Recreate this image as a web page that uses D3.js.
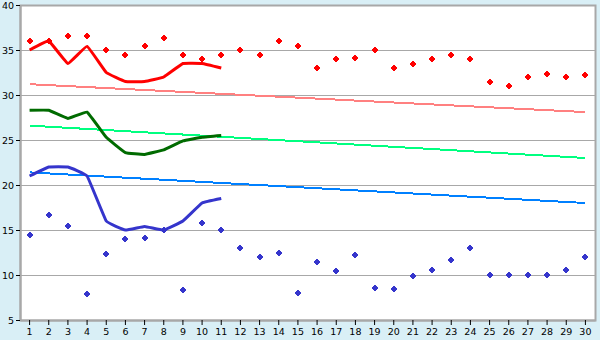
<!DOCTYPE html>
<html>
<head>
<meta charset="utf-8">
<script src="https://cdn.jsdelivr.net/npm/d3@7"></script>
<style>
  body { margin: 0; background: #d9eff6; }
  svg { display: block; }
  .tick text { font-family: "DejaVu Sans", Verdana, sans-serif; font-size: 9.5px; fill: #000; }
</style>
</head>
<body>
<div id="chart"></div>
<script>
// categories (days)
const days = d3.range(1, 31)

// scatter values
const redPoints = [36.0, 36.0, 36.5, 36.6, 35.0, 34.4, 35.5, 36.3, 34.4, 34.0,
                   34.5, 35.0, 34.5, 36.0, 35.5, 33.0, 34.0, 34.1, 35.0, 33.0,
                   33.5, 34.0, 34.5, 34.0, 31.4, 31.0, 32.0, 32.3, 32.0, 32.2]
const bluePoints = [14.4, 16.7, 15.4, 7.85, 12.3, 14.0, 14.1, 15.0, 8.3, 15.75,
                    15.0, 13.0, 12.0, 12.5, 8.0, 11.5, 10.5, 12.2, 8.6, 8.5,
                    9.9, 10.6, 11.7, 13.0, 10.0, 10.0, 10.0, 10.0, 10.6, 12.0]

// line values (days 1 - 11)
const redLine = [35.0, 36.0, 33.5, 35.4, 32.5, 31.5, 31.5, 32.0, 33.5, 33.5, 33.0]
const greenLine = [28.3, 28.3, 27.4, 28.1, 25.3, 23.6, 23.4, 23.9, 24.9, 25.3, 25.5]
const blueLine = [21.0, 22.0, 22.0, 21.0, 16.0, 15.0, 15.4, 15.0, 16.0, 18.0, 18.5]

// trend lines: value at day 1 and day 30
const redTrend = [31.2, 28.1]
const greenTrend = [26.6, 23.0]
const blueTrend = [21.4, 18.0]

const yTicks = [5, 10, 15, 20, 25, 30, 35, 40]

const width = 600, height = 340
const margin = { top: 5, right: 5, bottom: 20, left: 20 }

const svg = d3.select('#chart').append('svg')
    .attr('width', width)
    .attr('height', height)

const xScale = d3.scaleBand()
    .domain(days)
    .range([margin.left, width - margin.right])

const xc = d => xScale(d) + xScale.bandwidth() / 2

const yScale = d3.scaleLinear()
    .domain([5, 40])
    .range([height - margin.bottom, margin.top])

// plot background
svg.append('rect')
    .attr('x', margin.left)
    .attr('y', margin.top)
    .attr('width', width - margin.left - margin.right)
    .attr('height', height - margin.top - margin.bottom)
    .attr('fill', '#fff')

// gridlines
svg.append('g')
    .selectAll('line')
    .data(yTicks.slice(1, -1))
    .join('line')
    .attr('x1', margin.left)
    .attr('x2', width - margin.right)
    .attr('y1', d => yScale(d) + 0.5)
    .attr('y2', d => yScale(d) + 0.5)
    .attr('stroke', '#a8a8a8')
    .attr('stroke-width', 1)

// frame
svg.append('rect')
    .attr('x', margin.left + 0.5)
    .attr('y', margin.top + 0.5)
    .attr('width', width - margin.left - margin.right)
    .attr('height', height - margin.top - margin.bottom)
    .attr('fill', 'none')
    .attr('stroke', '#a8a8a8')
    .attr('stroke-width', 2)

// axes
const xAxis = d3.axisBottom(xScale).tickSize(5).tickPadding(3).tickSizeOuter(0)
const xAxisGroup = svg.append('g')
    .attr('transform', `translate(0, ${height - margin.bottom})`)
    .call(xAxis)
xAxisGroup.select('.domain').attr('stroke', '#a8a8a8').attr('stroke-width', 2)
xAxisGroup.selectAll('.tick line').attr('stroke', '#000')

const yAxis = d3.axisLeft(yScale).tickValues(yTicks).tickSize(4).tickPadding(2).tickSizeOuter(0)
const yAxisGroup = svg.append('g')
    .attr('transform', `translate(${margin.left}, 0)`)
    .call(yAxis)
yAxisGroup.select('.domain').attr('stroke', '#a8a8a8').attr('stroke-width', 2)
yAxisGroup.selectAll('.tick line').attr('stroke', '#000')

// trend lines
const trends = [
    { vals: redTrend, color: '#ff8080' },
    { vals: greenTrend, color: '#00ff80' },
    { vals: blueTrend, color: '#0080ff' }
]
svg.append('g')
    .selectAll('line')
    .data(trends)
    .join('line')
    .attr('x1', xc(days[0]))
    .attr('x2', xc(days[days.length - 1]))
    .attr('y1', d => yScale(d.vals[0]))
    .attr('y2', d => yScale(d.vals[1]))
    .attr('stroke', d => d.color)
    .attr('stroke-width', 2)
    .attr('shape-rendering', 'crispEdges')

// lightly smoothed lines
const line = d3.line()
    .x((d, i) => xc(days[i]))
    .y(d => yScale(d))
    .curve(d3.curveCardinal.tension(0.75))

const lines = [
    { vals: redLine, color: '#ff0000' },
    { vals: greenLine, color: '#006b00' },
    { vals: blueLine, color: '#3535cc' }
]
svg.append('g')
    .selectAll('path')
    .data(lines)
    .join('path')
    .attr('d', d => line(d.vals))
    .attr('fill', 'none')
    .attr('stroke', d => d.color)
    .attr('stroke-width', 3)
    .attr('stroke-linejoin', 'round')

// small stepped-diamond markers
const marker = 'M-1,-3h2v1h1v1h1v2h-1v1h-1v1h-2v-1h-1v-1h-1v-2h1v-1h1z'
const markerSets = [
    { vals: redPoints, color: '#ff0000' },
    { vals: bluePoints, color: '#3535cc' }
]
markerSets.forEach(set => {
    svg.append('g')
        .selectAll('path')
        .data(set.vals)
        .join('path')
        .attr('d', marker)
        .attr('transform', (d, i) => `translate(${Math.round(xc(days[i]))}, ${Math.round(yScale(d))})`)
        .attr('fill', set.color)
        .attr('shape-rendering', 'crispEdges')
})
</script>
</body>
</html>
